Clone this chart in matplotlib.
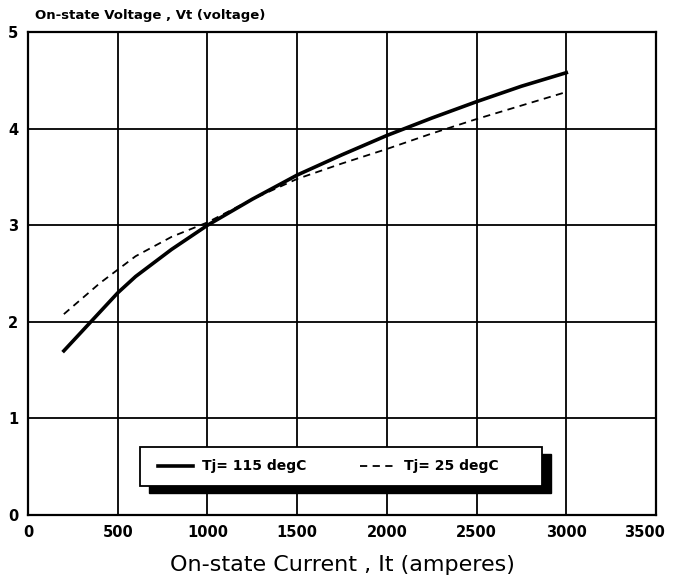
import matplotlib.pyplot as plt
from matplotlib.patches import Rectangle
from matplotlib.transforms import ScaledTranslation

# on-state current (A) / voltage (V)
it_115 = [200, 300, 400, 500, 600, 800, 1000, 1250, 1500, 1750, 2000, 2250, 2500, 2750, 3000]
vt_115 = [1.70, 1.90, 2.10, 2.30, 2.47, 2.75, 3.00, 3.27, 3.52, 3.73, 3.93, 4.11, 4.28, 4.44, 4.58]

it_25 = [200, 400, 600, 800, 1000, 1250, 1500, 1750, 2000, 2250, 2500, 2750, 3000]
vt_25 = [2.08, 2.40, 2.68, 2.88, 3.03, 3.27, 3.48, 3.64, 3.79, 3.95, 4.10, 4.24, 4.38]

xticks = [0, 500, 1000, 1500, 2000, 2500, 3000, 3500]
yticks = [0, 1, 2, 3, 4, 5]
labels = ['Tj= 115 degC', 'Tj= 25 degC']

fig = plt.figure(figsize=(6.74, 5.79), dpi=100)
ax = fig.add_axes([0.0415, 0.1105, 0.9318, 0.834])

ax.plot(it_115, vt_115, color='black', lw=2.6, label=labels[0])
ax.plot(it_25, vt_25, color='black', lw=1.3, dashes=(4, 3), label=labels[1])

ax.set_xlim(0, 3500)
ax.set_ylim(0, 5)
ax.set_xticks(xticks)
ax.set_yticks(yticks)
ax.grid(True, color='black', lw=1.3)
ax.tick_params(length=0, labelsize=10.5)
ax.tick_params(axis='x', pad=7)
ax.tick_params(axis='y', pad=7)
for lab in ax.get_xticklabels() + ax.get_yticklabels():
    lab.set_fontweight('bold')
# last x label sits a bit left of the frame edge, as in the scan
last = ax.get_xticklabels()[-1]
last.set_transform(last.get_transform() + ScaledTranslation(-8 / 72, 0, fig.dpi_scale_trans))
for sp in ax.spines.values():
    sp.set_linewidth(1.6)

ax.set_xlabel('On-state Current , It (amperes)', fontsize=16, labelpad=11)
ax.text(0.011, 1.027, 'On-state Voltage , Vt (voltage)', transform=ax.transAxes,
        fontsize=9.5, fontweight='bold', va='baseline', ha='left')

# legend box with heavy offset shadow
bx, by, bw, bh = 0.178, 0.060, 0.640, 0.081
ax.add_patch(Rectangle((bx + 0.0143, by - 0.0145), bw, bh, transform=ax.transAxes,
                       facecolor='black', edgecolor='black', zorder=4))
ax.add_patch(Rectangle((bx, by), bw, bh, transform=ax.transAxes,
                       facecolor='white', edgecolor='black', lw=1.3, zorder=4.5))
leg = ax.legend(loc='center left', bbox_to_anchor=(0.207, by + bh / 2), ncol=2,
                frameon=False, borderpad=0, borderaxespad=0,
                handlelength=2.5, handletextpad=0.7, columnspacing=3.8,
                prop={'weight': 'bold', 'size': 10})
leg.set_zorder(5)

fig.savefig('out.png', dpi=100)
